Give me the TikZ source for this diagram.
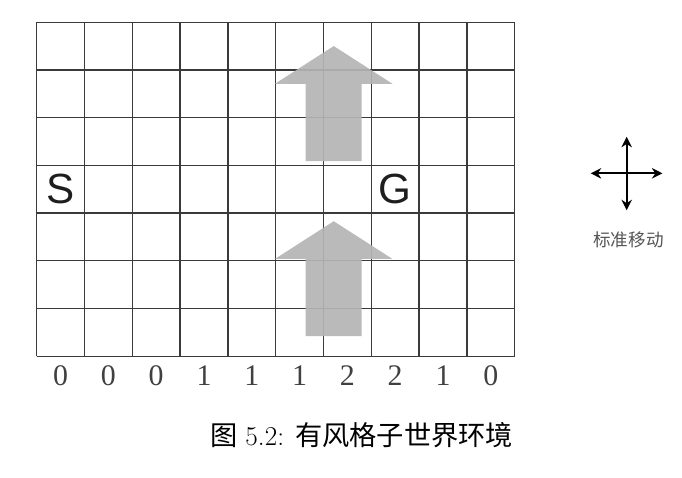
\documentclass[tikz,border=0pt]{standalone}
\usepackage{fontspec}
\newfontfamily\cjksans{Noto Sans CJK SC}
\newfontfamily\arialfont{Liberation Sans}
\newfontfamily\timesfont{Liberation Serif}
\usetikzlibrary{arrows.meta}
\definecolor{gridline}{HTML}{3A3A3A}
\definecolor{windgray}{HTML}{B4B4B4}
\definecolor{ink}{HTML}{1E1E1E}
\definecolor{legendtext}{HTML}{555555}
\tikzset{
  >=Stealth,
  cellmark/.style={font=\arialfont\fontsize{24}{24}\selectfont, text=ink},
  strength/.style={font=\timesfont\fontsize{17}{17}\selectfont, text=ink!85},
  legendlabel/.style={font=\cjksans\fontsize{10}{10}\selectfont, text=legendtext},
  caption/.style={font=\fontsize{15.5}{15.5}\selectfont, text=black},
  pics/windarrow/.style={
    code={
      \fill[windgray, fill opacity=0.92]
        (-0.586,0) -- (-0.586,1.62) -- (-1.228,1.62) -- (0,2.41)
        -- (1.228,1.62) -- (0.586,1.62) -- (0.586,0) -- cycle;
    }
  },
}

\begin{document}
\begin{tikzpicture}[x=0.956cm,y=0.954cm]
  \useasboundingbox (-0.768,-2.553) rectangle (13.5,7.468);

  % Grid world
  \foreach \c in {0,...,10}
    \draw[gridline, line width=0.75pt] (\c,0) -- (\c,7);
  \foreach \r in {0,...,7}
    \draw[gridline, line width=0.75pt] (0,\r) -- (10,\r);

  % Wind
  \pic at (6.214,4.092) {windarrow};
  \pic at (6.214,0.42) {windarrow};

  % Start and goal
  \node[cellmark] (start) at (0.5,3.5) {S};
  \node[cellmark] (goal) at (7.5,3.5) {G};

  % Wind strength per column
  \foreach \w [count=\i from 0] in {0,0,0,1,1,1,2,2,1,0}
    \node[strength] (wind\i) at (\i+0.5,-0.41) {\w};

  % Legend
  \coordinate (move) at (12.343,3.834);
  \coordinate (moveW) at (11.59,3.834);
  \coordinate (moveE) at (13.09,3.834);
  \coordinate (moveN) at (12.343,4.60);
  \coordinate (moveS) at (12.343,3.06);
  \draw[black, line width=1pt, {Stealth[length=6pt,width=6pt]}-{Stealth[length=6pt,width=6pt]}] (moveW) -- (moveE);
  \draw[black, line width=1pt, {Stealth[length=6pt,width=6pt]}-{Stealth[length=6pt,width=6pt]}] (moveS) -- (moveN);
  \node[legendlabel] (legend) at (12.38,2.43) {标准移动};

  % Caption
  \node[caption] (figcap) at (6.795,-1.652) {{\cjksans 图} 5.2: {\cjksans 有风格子世界环境}};
\end{tikzpicture}
\end{document}
